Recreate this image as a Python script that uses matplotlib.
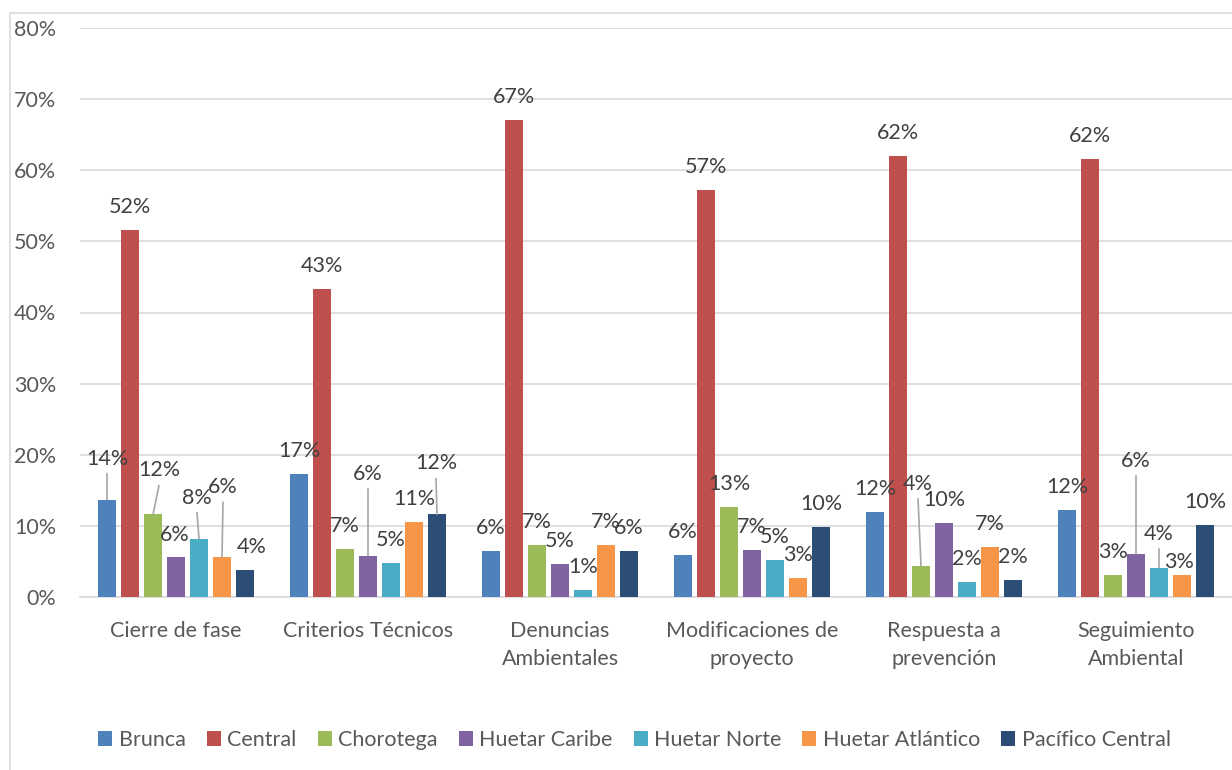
import matplotlib
matplotlib.use("Agg")
import matplotlib.pyplot as plt
from matplotlib.patches import Rectangle, Patch
from matplotlib.ticker import FuncFormatter
import numpy as np

plt.rcParams['font.family'] = ['Lato', 'DejaVu Sans']

# ---------------- data ----------------
categories = ["Cierre de fase", "Criterios Técnicos", "Denuncias\nAmbientales",
              "Modificaciones de\nproyecto", "Respuesta a\nprevención", "Seguimiento\nAmbiental"]
regions = ["Brunca", "Central", "Chorotega", "Huetar Caribe", "Huetar Norte",
           "Huetar Atlántico", "Pacífico Central"]

brunca           = [13.7, 17.3, 6.4, 5.9, 11.9, 12.2]
central          = [51.6, 43.3, 67.0, 57.2, 62.0, 61.6]
chorotega        = [11.6, 6.75, 7.3, 12.6, 4.4, 3.1]
huetar_caribe    = [5.6, 5.8, 4.6, 6.6, 10.4, 6.1]
huetar_norte     = [8.2, 4.8, 1.0, 5.25, 2.1, 4.1]
huetar_atlantico = [5.6, 10.6, 7.3, 2.7, 7.0, 3.1]
pacifico_central = [3.8, 11.6, 6.4, 9.9, 2.35, 10.1]

series = [brunca, central, chorotega, huetar_caribe, huetar_norte,
          huetar_atlantico, pacifico_central]
colors = ["#4F81BD", "#C0504D", "#9BBB59", "#8064A2", "#4BACC6", "#F79646", "#2C4D75"]

y_ticks = [0, 10, 20, 30, 40, 50, 60, 70, 80]

# label placement (pixel offsets from bar top: dx, dy, leader line)
default_offset = (0, 25, False)
label_offsets = {
    (0, 0): (0, 43, True),
    (2, 0): (6, 46, True),
    (3, 0): (-1, 24, False),
    (4, 0): (-2, 43, True),
    (5, 0): (1, 72, True),
    (6, 0): (7, 25, False),
    (3, 1): (0, 84, True),
    (6, 1): (-1, 53, True),
    (2, 4): (-3, 84, True),
    (3, 5): (0, 95, True),
    (4, 5): (0, 36, True),
    (5, 5): (-3, 15, False),
}

TEXT = "#595959"
GRID = "#D9D9D9"
FS = 15.5

fig = plt.figure(figsize=(12.32, 7.7), dpi=100)
# outer chart border
fig.patches.append(Rectangle((10 / 1232, -0.05), 1.2, 1 - 13 / 770 + 0.05,
                             transform=fig.transFigure, fill=False,
                             edgecolor=GRID, lw=1.2))

ax = fig.add_axes([80 / 1232, 1 - 597 / 770, 1 - 80 / 1232, (597 - 28) / 770])

x = np.arange(len(categories))
pitch = 23 / 192
width = 18 / 192
n = len(series)
for j, (vals, col, name) in enumerate(zip(series, colors, regions)):
    xs = x + (j - (n - 1) / 2) * pitch
    ax.bar(xs, vals, width=width, color=col, label=name, zorder=3)
    for i, (xx, v) in enumerate(zip(xs, vals)):
        dx, dy, leader = label_offsets.get((j, i), default_offset)
        ax.annotate(f"{v:.0f}%", xy=(xx, v), xytext=(dx, dy - 8),
                    textcoords='offset pixels', ha='center', va='baseline',
                    fontsize=FS, color="#404040", zorder=5)
        if leader:
            ax.annotate("", xy=(xx, v), xytext=(dx, dy - 17),
                        textcoords='offset pixels',
                        arrowprops=dict(arrowstyle='-', color="#A6A6A6", lw=1.2,
                                        shrinkA=0, shrinkB=0), zorder=4)

ax.set_xlim(-0.5, len(categories) - 0.5)
ax.set_ylim(0, 80)
ax.set_yticks(y_ticks)
ax.yaxis.set_major_formatter(FuncFormatter(lambda v, p: f"{v:.0f}%"))
ax.grid(axis='y', color=GRID, lw=1.2, zorder=0)
ax.set_axisbelow(True)
for s in ['top', 'right', 'left']:
    ax.spines[s].set_visible(False)
ax.spines['bottom'].set_color(GRID)
ax.spines['bottom'].set_linewidth(1.2)
ax.set_xticks(x)
ax.set_xticklabels(categories, fontsize=FS, color=TEXT, va='top', linespacing=1.55)
ax.tick_params(axis='x', length=0, pad=17)
ax.tick_params(axis='y', length=0, pad=17, labelsize=FS, labelcolor=TEXT)

handles = [Patch(facecolor=c, edgecolor='none') for c in colors]
fig.legend(handles, regions, loc='center', bbox_to_anchor=(634.5 / 1232, 1 - 740 / 770),
           ncol=7, frameon=False, fontsize=FS, labelcolor=TEXT,
           handlelength=0.65, handleheight=0.65, handletextpad=0.3,
           columnspacing=0.98, borderaxespad=0)

fig.savefig("out.png", dpi=100)
